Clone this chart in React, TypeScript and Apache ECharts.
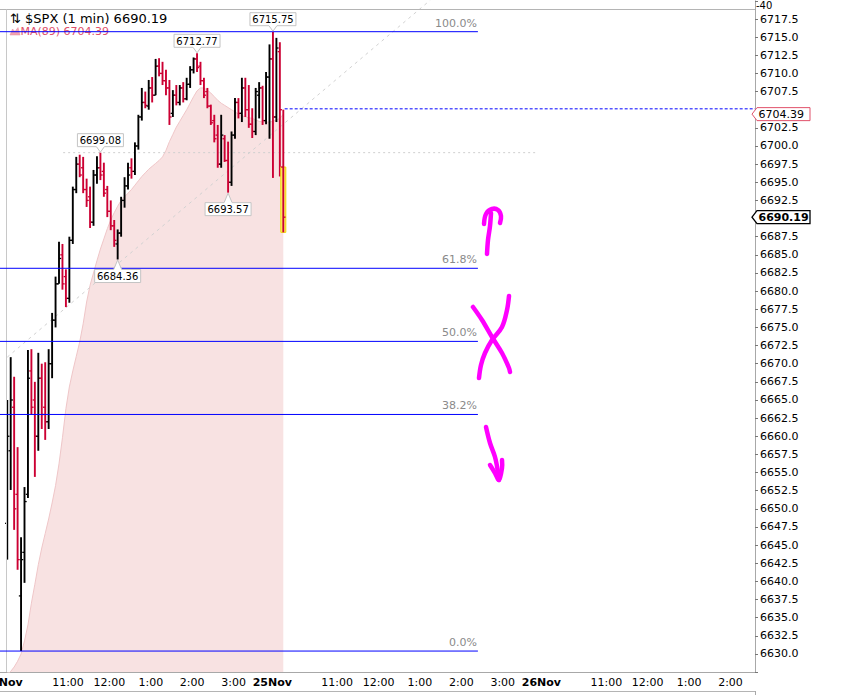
import React, { useEffect, useRef } from 'react';
import * as echarts from 'echarts';

const FONT = '"DejaVu Sans", Verdana, sans-serif';

// ---- time axis (1-minute slots) ----
const DAYS = ['24Nov', '25Nov', '26Nov'];
const DAY_MINUTES = [390, 390, 306];
const PRE_SLOTS = 8;
const SESSION = 390;
const HOUR_TICKS = [11, 12, 13, 14, 15];
const DAY1_BARS = 78;

// ---- 5-minute OHLC bars: 24Nov 9:30 .. 25Nov 9:44 ----
const OPEN = [
  6648, 6658, 6664, 6652, 6638, 6644, 6652, 6669, 6665, 6660,
  6668, 6664, 6662, 6670, 6676, 6681, 6685, 6682, 6679, 6687,
  6694, 6697.5, 6697, 6694, 6693, 6689.5, 6696, 6697, 6696.5, 6694,
  6691, 6689, 6686.5, 6688, 6692.5, 6694.5, 6697, 6696.5, 6700, 6704,
  6706, 6705.5, 6708, 6707, 6711, 6710, 6709, 6708, 6704.5, 6707,
  6706, 6708, 6706.5, 6708.5, 6710.5, 6712, 6711, 6709, 6707.5, 6705.5,
  6703.5, 6701.5, 6697.5, 6701, 6698, 6695, 6701.5, 6706, 6704.5, 6708,
  6705, 6703, 6702, 6707, 6708, 6703.5, 6709.5, 6712,
  6704, 6713, 6697.1,
];
const HIGH = [
  6665.0, 6670.9, 6668.2, 6658.5, 6646.1, 6653.0, 6671.9, 6672.0, 6667.5, 6671.5,
  6670.0, 6670.2, 6672.0, 6677.0, 6682.0, 6686.8, 6686.5, 6683.0, 6687.5, 6694.4,
  6698.5, 6698.8, 6698.5, 6695.5, 6694.4, 6696.7, 6698.6, 6699.08, 6697.7, 6694.5,
  6692.5, 6689.8, 6688.5, 6693.0, 6695.7, 6697.7, 6698.3, 6700.5, 6704.3, 6708.0,
  6707.5, 6709.1, 6709.5, 6712.0, 6712.1, 6711.6, 6710.5, 6709.1, 6707.7, 6708.4,
  6708.4, 6708.8, 6709.4, 6711.0, 6712.2, 6712.77, 6711.6, 6709.4, 6708.0, 6705.7,
  6704.3, 6702.9, 6704.3, 6701.5, 6700.6, 6702.0, 6706.6, 6706.6, 6709.4, 6709.4,
  6708.4, 6705.2, 6708.0, 6708.8, 6708.3, 6710.2, 6714.0, 6715.75,
  6714.9, 6714.3, 6705.0,
];
const LOW = [
  6643.0, 6652.6, 6647.1, 6641.6, 6630.4, 6639.8, 6651.5, 6663.0, 6654.4, 6658.0,
  6661.0, 6659.5, 6661.0, 6668.0, 6675.0, 6681.0, 6680.2, 6677.8, 6678.4, 6686.5,
  6693.5, 6695.7, 6693.5, 6691.6, 6688.7, 6689.0, 6694.8, 6695.3, 6693.0, 6690.2,
  6688.4, 6686.1, 6684.36, 6687.5, 6691.5, 6694.0, 6695.5, 6696.0, 6699.5, 6703.5,
  6705.2, 6705.0, 6706.0, 6707.0, 6709.6, 6708.4, 6707.0, 6702.9, 6704.0, 6705.6,
  6705.6, 6706.0, 6706.3, 6708.0, 6710.0, 6710.2, 6708.4, 6706.6, 6705.2, 6702.9,
  6700.5, 6697.0, 6697.0, 6697.8, 6693.57, 6694.5, 6701.0, 6703.8, 6703.3, 6704.0,
  6702.5, 6701.1, 6701.5, 6703.8, 6702.9, 6703.0, 6701.0, 6695.6,
  6703.3, 6695.8, 6688.1,
];
const CLOSE = [
  6660.0, 6665.0, 6650.0, 6643.0, 6643.0, 6651.0, 6668.0, 6664.0, 6660.0, 6668.0,
  6663.0, 6662.0, 6670.0, 6676.0, 6681.0, 6684.5, 6681.0, 6679.0, 6687.0, 6694.0,
  6697.5, 6696.0, 6694.0, 6692.5, 6689.5, 6696.0, 6697.0, 6696.0, 6693.5, 6691.0,
  6689.0, 6687.0, 6688.0, 6692.5, 6694.5, 6696.0, 6696.5, 6700.0, 6704.0, 6706.0,
  6705.6, 6708.0, 6707.0, 6711.0, 6710.0, 6709.0, 6708.0, 6704.0, 6707.0, 6706.0,
  6708.0, 6706.5, 6708.5, 6710.5, 6712.0, 6710.8, 6709.0, 6707.0, 6705.5, 6703.2,
  6701.0, 6697.5, 6701.5, 6698.0, 6695.0, 6701.5, 6706.0, 6704.5, 6708.0, 6705.0,
  6703.0, 6702.0, 6707.5, 6708.0, 6703.5, 6709.5, 6712.0, 6704.0,
  6713.5, 6705.0, 6690.19,
];
const MA89 = [
  6627.0, 6627.6, 6628.2, 6629.0, 6630.0, 6631.8, 6634.0, 6637.0, 6639.6, 6642.3,
  6644.6, 6646.6, 6648.6, 6650.8, 6653.2, 6656.2, 6659.8, 6663.8, 6666.8, 6669.0,
  6671.0, 6673.0, 6675.5, 6678.5, 6680.8, 6682.5, 6684.2, 6685.8, 6687.2, 6688.6,
  6689.8, 6690.8, 6691.7, 6692.5, 6693.0, 6693.5, 6694.0, 6694.6, 6695.2, 6695.8,
  6696.3, 6696.8, 6697.2, 6697.6, 6698.0, 6698.5, 6699.4, 6700.6, 6701.6, 6702.6,
  6703.4, 6704.2, 6705.0, 6705.9, 6706.8, 6707.6, 6708.0, 6708.0, 6707.7, 6707.3,
  6706.8, 6706.3, 6705.9, 6705.6, 6705.3, 6705.0, 6704.7, 6704.4, 6704.2, 6704.0,
  6703.9, 6703.8, 6703.6, 6703.4, 6703.3, 6703.3, 6703.3, 6703.4,
  6703.6, 6703.8, 6704.39,
];

// ---- price axis ----
const Y_MIN = 6627.5;
const Y_MAX = 6720;
const Y_STEP = 2.5;
const Y_FIRST_LABEL = 6630;
const Y_LAST_LABEL = 6717.5;

// ---- annotations ----
const FIB_RATIOS = [0, 0.382, 0.5, 0.618, 1];
const FIB_LABELS = ['0.0%', '38.2%', '50.0%', '61.8%', '100.0%'];
const FIB_END = { day: 1, minute: 294 };
const PREV_CLOSE = 6705.12;
const PEAK_BARS = [27, 55, 77];
const TROUGH_BARS = [32, 64];
const LEVEL_LINE = { bar: 27, from: { day: 0, minute: 83 }, to: { day: 1, minute: 377 } };
const TREND_LINE = { from: { day: 0, minute: 2, price: 6670.9 }, to: { day: 1, minute: 225, price: 6720.1 } };
const UPPER_PANEL_TICK = '-40';

const PLOT_RIGHT = 755;
const PINK = '#ff00ff';
const HANDWRITING: number[][][] = [
  [[487, 254], [488, 240], [490, 226], [491, 213]],
  [[484, 224], [486, 214], [492, 209], [498, 210], [501, 216], [500, 223]],
  [[473, 307], [482, 320], [492, 337], [502, 353], [509, 368], [510, 372]],
  [[509, 296], [507, 310], [502, 327], [492, 340], [485, 353], [481, 365], [479, 378]],
  [[486, 427], [490, 443], [495, 457], [498, 472], [499, 480]],
  [[490, 465], [495, 473], [499, 480], [502, 468], [502, 460]],
];

// ---- categories ----
const CATS: string[] = [];
const CAT_LABELS: string[] = [];
for (let i = 0; i < PRE_SLOTS; i++) {
  CATS.push('pre' + i);
  CAT_LABELS.push('');
}
DAYS.forEach((d, di) => {
  for (let m = 0; m < DAY_MINUTES[di]; m++) {
    const t = 570 + m;
    const h = Math.floor(t / 60);
    const mm = t % 60;
    CATS.push(d + ' ' + h + ':' + mm);
    CAT_LABELS.push(mm === 0 && HOUR_TICKS.includes(h) ? `${h > 12 ? h - 12 : h}:00` : '');
  }
});
DAYS.forEach((d, di) => {
  CAT_LABELS[PRE_SLOTS + di * SESSION - 4] = '{b|' + d + '}';
});

const catOf = (day: number, minute: number) => PRE_SLOTS + day * SESSION + minute;
const barCat = (j: number) =>
  j < DAY1_BARS ? catOf(0, 5 * j + 2) : catOf(1, 5 * (j - DAY1_BARS) + 2);

const LAST = CLOSE.length - 1;
const TAG_VALUES = [MA89[LAST], CLOSE[LAST]];

function buildOption(): any {
  const ohlc = OPEN.map((o, j) => [barCat(j), o, HIGH[j], LOW[j], CLOSE[j]]);
  const ma = MA89.map((v, j) => [barCat(j), v]);
  return {
    animation: false,
    backgroundColor: '#ffffff',
    grid: { left: 0, right: 97, top: 0.86, bottom: 22.9, containLabel: false, outerBoundsMode: 'none' },
    xAxis: {
      type: 'category',
      data: CATS,
      boundaryGap: true,
      axisLine: { show: true, lineStyle: { color: '#a8a8a8', width: 1 } },
      axisTick: { show: false },
      splitLine: { show: false },
      axisLabel: {
        interval: (i: number) => CAT_LABELS[i] !== '',
        formatter: (_v: string, i: number) => CAT_LABELS[i],
        color: '#000',
        fontFamily: FONT,
        fontSize: 11,
        margin: 5,
        hideOverlap: false,
        rich: { b: { fontFamily: FONT, fontSize: 11, fontWeight: 'bold', color: '#000' } },
      },
    },
    yAxis: {
      type: 'value',
      position: 'right',
      min: Y_MIN,
      max: Y_MAX,
      interval: Y_STEP,
      splitLine: { show: false },
      axisLine: { show: true, lineStyle: { color: '#a8a8a8', width: 1 } },
      axisTick: { show: true, length: 3, lineStyle: { color: '#777' } },
      axisLabel: {
        color: '#000',
        fontFamily: FONT,
        fontSize: 11,
        margin: 5,
        formatter: (v: number) => {
          if (v < Y_FIRST_LABEL - 1e-6 || v > Y_LAST_LABEL + 1e-6) return '';
          if (TAG_VALUES.some((t) => Math.abs(t - v) < 1.2)) return '';
          return v.toFixed(1);
        },
      },
    },
    series: [
      {
        name: 'MA(89)',
        type: 'line',
        data: ma,
        z: 1,
        symbol: 'none',
        silent: true,
        lineStyle: { color: '#efc6c8', width: 1 },
        areaStyle: { color: '#f8e2e2', origin: 'start', opacity: 1 },
      },
      {
        name: '$SPX',
        type: 'custom',
        z: 3,
        data: ohlc,
        encode: { x: 0, y: [1, 2, 3, 4] },
        renderItem: (params: any, api: any) => {
          const idx = api.value(0);
          const o = api.value(1);
          const h = api.value(2);
          const l = api.value(3);
          const c = api.value(4);
          const x = api.coord([idx, o])[0];
          const yo = api.coord([idx, o])[1];
          const yh = api.coord([idx, h])[1];
          const yl = api.coord([idx, l])[1];
          const yc = api.coord([idx, c])[1];
          const color = c >= o ? '#000000' : '#cc0033';
          const children: any[] = [];
          if (params.dataIndex === LAST) {
            const yt = Math.min(yo, yc);
            children.push({
              type: 'rect',
              shape: { x: x - 2.5, y: yt, width: 5, height: yl - yt },
              style: { fill: '#fff176', stroke: '#f0d800', lineWidth: 1 },
            });
          }
          children.push(
            { type: 'line', shape: { x1: x, y1: yh, x2: x, y2: yl }, style: { stroke: color, lineWidth: 1.9 } },
            { type: 'line', shape: { x1: x - 2.2, y1: yo, x2: x, y2: yo }, style: { stroke: color, lineWidth: 1.3 } },
            { type: 'line', shape: { x1: x, y1: yc, x2: x + 2.2, y2: yc }, style: { stroke: color, lineWidth: 1.3 } },
          );
          return { type: 'group', children };
        },
      },
    ],
  };
}

function buildGraphics(chart: any): any[] {
  const px = (cat: number, v: number) =>
    chart.convertToPixel({ xAxisIndex: 0, yAxisIndex: 0 }, [cat, v]) as number[];
  const yOf = (v: number) => px(0, v)[1];
  const xOf = (c: number) => px(c, Y_MIN)[0];
  const els: any[] = [];
  const line = (x1: number, y1: number, x2: number, y2: number, stroke: string, w = 1, dash?: number[], z = 10) =>
    els.push({
      type: 'line',
      z,
      silent: true,
      shape: { x1, y1, x2, y2 },
      style: { stroke, lineWidth: w, lineDash: dash },
    });
  const text = (t: string, x: number, y: number, opts: any = {}) =>
    els.push({
      type: 'text',
      z: opts.z ?? 12,
      silent: true,
      x,
      y,
      style: {
        text: t,
        fill: opts.fill ?? '#000',
        fontFamily: FONT,
        fontSize: opts.size ?? 11,
        fontWeight: opts.weight ?? 'normal',
        align: opts.align ?? 'left',
        verticalAlign: 'middle',
      },
    });

  // frame pieces
  line(0, 9.5, PLOT_RIGHT, 9.5, '#b4b4b4', 1, undefined, 5);
  line(6.5, 9.5, 6.5, 672, '#c8c8c8', 1, undefined, 5);
  line(0, 691.5, PLOT_RIGHT, 691.5, '#b4b4b4', 1, undefined, 5);
  line(755.5, 691, 755.5, 695, '#a8a8a8', 1, undefined, 5);
  text(UPPER_PANEL_TICK, 756, 5, { size: 10 });

  // trend line (dotted) & level line
  const t0 = px(catOf(TREND_LINE.from.day, TREND_LINE.from.minute), TREND_LINE.from.price);
  const t1 = px(catOf(TREND_LINE.to.day, TREND_LINE.to.minute), TREND_LINE.to.price);
  line(t0[0], t0[1], t1[0], t1[1], '#d2d2d2', 1, [3, 4], 2);
  const lvY = yOf(HIGH[LEVEL_LINE.bar]);
  line(
    xOf(catOf(LEVEL_LINE.from.day, LEVEL_LINE.from.minute)), lvY,
    xOf(catOf(LEVEL_LINE.to.day, LEVEL_LINE.to.minute)), lvY,
    '#cfcfcf', 1, [2, 3], 2,
  );

  // Fibonacci retracement
  const lo = Math.min(...LOW);
  const hi = Math.max(...HIGH);
  const fibEndX = xOf(catOf(FIB_END.day, FIB_END.minute));
  FIB_RATIOS.forEach((r, i) => {
    const y = yOf(lo + r * (hi - lo));
    line(0, y, fibEndX, y, '#0000ff', 1, undefined, 9);
    text(FIB_LABELS[i], fibEndX - 1, y - 8.5, { fill: '#8a8a8a', align: 'right', size: 11 });
  });

  // previous close (dashed)
  const pcY = yOf(PREV_CLOSE);
  line(xOf(barCat(LAST) + 2), pcY, PLOT_RIGHT, pcY, '#0000ff', 1, [3, 2], 9);

  // value call-outs
  const box = (j: number, above: boolean) => {
    const v = above ? HIGH[j] : LOW[j];
    const [cx, py] = px(barCat(j), v);
    const w = 46;
    const h = 13;
    const l = cx - w / 2;
    const r = cx + w / 2;
    let pts: number[][];
    let ty: number;
    if (above) {
      const b = py - 6;
      const t = b - h;
      pts = [[l, t], [r, t], [r, b], [cx + 4, b], [cx, py - 0.5], [cx - 4, b], [l, b]];
      ty = (t + b) / 2;
    } else {
      const t = py + 10;
      const b = t + h;
      pts = [[l, t], [cx - 4, t], [cx, py + 0.5], [cx + 4, t], [r, t], [r, b], [l, b]];
      ty = (t + b) / 2;
    }
    els.push({
      type: 'polygon',
      z: 11,
      silent: true,
      shape: { points: pts },
      style: { fill: '#ffffff', stroke: '#c4c4c4', lineWidth: 1 },
    });
    text(v.toFixed(2), cx, ty + 0.5, { size: 10, align: 'center', z: 12 });
  };
  PEAK_BARS.forEach((j) => box(j, true));
  TROUGH_BARS.forEach((j) => box(j, false));

  // right-hand price tags
  const tag = (v: number, stroke: string, bold: boolean) => {
    const y = yOf(v);
    els.push({
      type: 'polygon',
      z: 20,
      silent: true,
      shape: { points: [[752, y], [757, y - 6.5], [810, y - 6.5], [810, y + 6.5], [757, y + 6.5]] },
      style: { fill: '#ffffff', stroke, lineWidth: bold ? 1.3 : 1 },
    });
    text(v.toFixed(2), 758.5, y + 0.5, { size: 11, weight: bold ? 'bold' : 'normal', z: 21 });
  };
  tag(MA89[LAST], '#e0506a', false);
  tag(CLOSE[LAST], '#000000', true);

  // title & legend
  text(`⇅ $SPX (1 min) ${CLOSE[LAST].toFixed(2)}`, 10, 18, { size: 13, z: 8 });
  els.push({
    type: 'polygon',
    z: 8,
    silent: true,
    shape: { points: [[10, 35], [12.5, 29], [15, 31.5], [18, 27.5], [20, 35]] },
    style: { fill: '#f2a3b1', stroke: '#e88a9c', lineWidth: 0.5 },
  });
  text(`MA(89) ${MA89[LAST].toFixed(2)}`, 20.5, 31, { size: 11, fill: '#e0506a', z: 8 });

  // hand-drawn marks
  HANDWRITING.forEach((pts) =>
    els.push({
      type: 'polyline',
      z: 30,
      silent: true,
      shape: { points: pts, smooth: 0.35 },
      style: { stroke: PINK, lineWidth: 4.5, lineCap: 'round', lineJoin: 'round', fill: 'none' },
    }),
  );
  return els;
}

export default function App() {
  const ref = useRef<HTMLDivElement>(null);
  useEffect(() => {
    if (!ref.current) return;
    const chart = echarts.init(ref.current, undefined, { renderer: 'svg' });
    chart.setOption(buildOption());
    chart.setOption({ graphic: { elements: buildGraphics(chart) } });
    return () => chart.dispose();
  }, []);
  return (
    <div
      ref={ref}
      style={{ position: 'fixed', left: 0, top: 0, width: 852, height: 695, background: '#ffffff' }}
    />
  );
}
